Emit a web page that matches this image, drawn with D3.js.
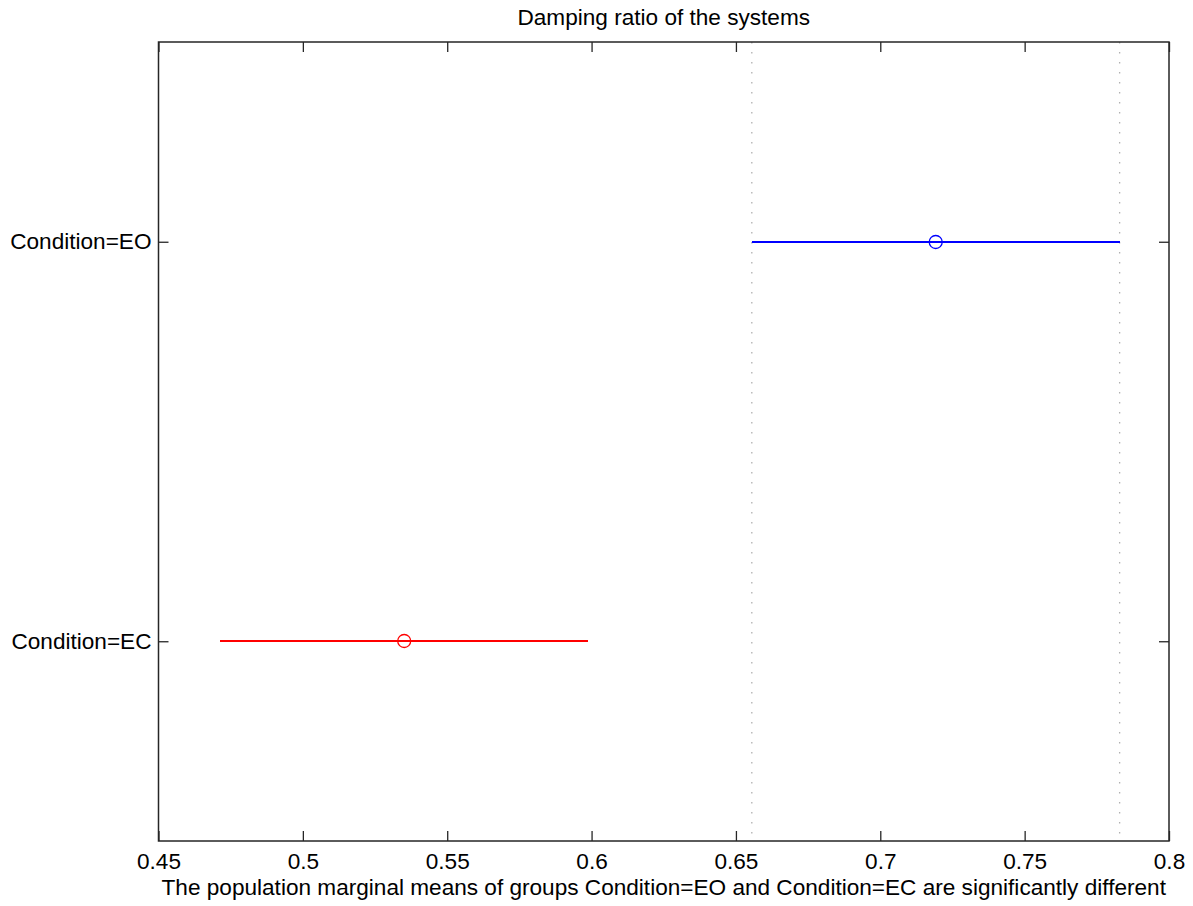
<!DOCTYPE html>
<meta charset="utf-8">
<script src="https://d3js.org/d3.v7.min.js"></script>
<style>
  body { margin: 0; background: #fff; }
  text { font-family: "Liberation Sans", Arial, sans-serif; fill: #000; }
</style>
<div id="chart"></div>
<script>
// groups, top to bottom
var groups = ["Condition=EO", "Condition=EC"];
var means = [0.7192, 0.5351];
var lower = [0.6555, 0.4714];
var upper = [0.7829, 0.5988];
var colors = ["#0000ff", "#ff0000"];
var xTicks = [0.45, 0.5, 0.55, 0.6, 0.65, 0.7, 0.75, 0.8];

var W = 1193, H = 906;
var margin = {top: 42, right: 24, bottom: 65, left: 158.5};
var fs = "22.6px";

var svg = d3.select("#chart").append("svg")
  .attr("width", W).attr("height", H);

var x = d3.scaleLinear().domain([0.45, 0.8]).range([margin.left, W - margin.right]);
var y = d3.scaleLinear().domain([0.5, 2.5]).range([margin.top, H - margin.bottom]);

var x0 = x.range()[0], x1 = x.range()[1], y0 = y.range()[0], y1 = y.range()[1];

// dotted reference lines at the comparison interval of the first group
[lower[0], upper[0]].forEach(function(v) {
  svg.append("line")
    .attr("x1", x(v)).attr("x2", x(v))
    .attr("y1", y0).attr("y2", y1)
    .attr("stroke", "#b0b0b0").attr("stroke-width", 1.3)
    .attr("stroke-dasharray", "1.5,8.5");
});

// interval lines and mean markers
groups.forEach(function(g, i) {
  svg.append("line")
    .attr("x1", x(lower[i])).attr("x2", x(upper[i]))
    .attr("y1", Math.round(y(i + 1))).attr("y2", Math.round(y(i + 1)))
    .attr("stroke", colors[i]).attr("stroke-width", 2)
    .attr("shape-rendering", "crispEdges");
  svg.append("circle")
    .attr("cx", x(means[i])).attr("cy", Math.round(y(i + 1))).attr("r", 6.5)
    .attr("fill", "none").attr("stroke", colors[i]).attr("stroke-width", 1.3);
});

// axes box
svg.append("rect")
  .attr("x", x0).attr("y", y0)
  .attr("width", x1 - x0).attr("height", y1 - y0)
  .attr("fill", "none").attr("stroke", "#262626").attr("stroke-width", 1.5);

var tickLen = 10;
var axisBottom = d3.axisBottom(x).tickValues(xTicks).tickSizeInner(-tickLen).tickSizeOuter(0)
  .tickPadding(12).tickFormat(function(d) { return d3.format("")(+d.toFixed(2)); });
var gx = svg.append("g").attr("transform", "translate(0," + y1 + ")").call(axisBottom);
gx.select(".domain").remove();
gx.selectAll("line").attr("stroke", "#262626").attr("stroke-width", 1.3);
gx.selectAll("text").style("font-size", fs).attr("font-family", null);

var axisTop = d3.axisTop(x).tickValues(xTicks).tickSizeInner(-tickLen).tickSizeOuter(0).tickFormat("");
var gt = svg.append("g").attr("transform", "translate(0," + y0 + ")").call(axisTop);
gt.select(".domain").remove();
gt.selectAll("line").attr("stroke", "#262626").attr("stroke-width", 1.3);

var axisLeft = d3.axisLeft(y).tickValues([1, 2]).tickSizeInner(-tickLen).tickSizeOuter(0)
  .tickPadding(7).tickFormat(function(d) { return groups[d - 1]; });
var gl = svg.append("g").attr("transform", "translate(" + x0 + ",0)").call(axisLeft);
gl.select(".domain").remove();
gl.selectAll("line").attr("stroke", "#262626").attr("stroke-width", 1.3);
gl.selectAll("text").style("font-size", fs).attr("font-family", null);

var axisRight = d3.axisRight(y).tickValues([1, 2]).tickSizeInner(-tickLen).tickSizeOuter(0).tickFormat("");
var gr = svg.append("g").attr("transform", "translate(" + x1 + ",0)").call(axisRight);
gr.select(".domain").remove();
gr.selectAll("line").attr("stroke", "#262626").attr("stroke-width", 1.3);

// title and x label
svg.append("text")
  .attr("x", (x0 + x1) / 2).attr("y", 25)
  .attr("text-anchor", "middle").style("font-size", fs)
  .text("Damping ratio of the systems");

svg.append("text")
  .attr("x", (x0 + x1) / 2).attr("y", 895)
  .attr("text-anchor", "middle").style("font-size", fs)
  .text("The population marginal means of groups Condition=EO and Condition=EC are significantly different");
</script>
